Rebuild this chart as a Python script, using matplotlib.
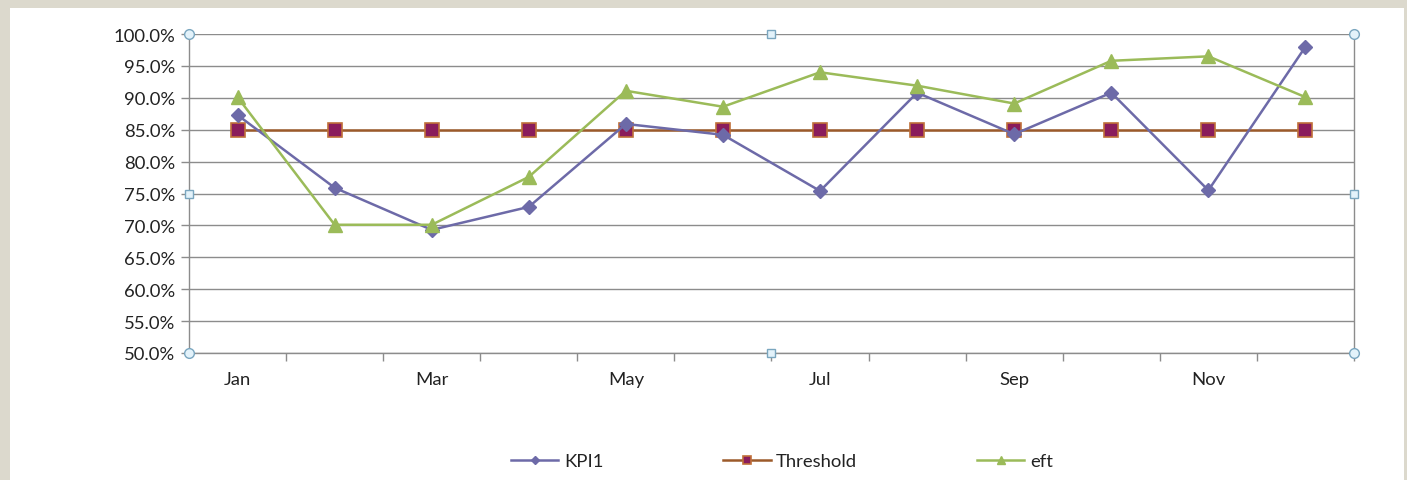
import matplotlib
matplotlib.use("Agg")
import matplotlib.pyplot as plt
from matplotlib.patches import Rectangle
from matplotlib.ticker import FuncFormatter, FixedLocator

# ── Data ──────────────────────────────────────────────────────────────────────
months = ["Jan", "Feb", "Mar", "Apr", "May", "Jun",
          "Jul", "Aug", "Sep", "Oct", "Nov", "Dec"]
kpi1 = [87.3, 75.9, 69.3, 72.9, 85.9, 84.2, 75.4, 90.8, 84.3, 90.8, 75.5, 98.0]
threshold = [85.0] * 12
eft = [90.1, 70.1, 70.1, 77.6, 91.1, 88.6, 94.0, 91.9, 89.1, 95.8, 96.5, 90.1]

W, H = 1407, 481
FS = 13.3
plt.rcParams["font.family"] = ["Lato", "DejaVu Sans"]

fig = plt.figure(figsize=(W / 100, H / 100), dpi=100)
fig.patch.set_facecolor("#dcd9cd")
fig.add_artist(Rectangle((10 / W, 0), (1404 - 10) / W, (H - 9) / H,
                         transform=fig.transFigure, facecolor="white",
                         edgecolor="none", zorder=0))

ax = fig.add_axes([189 / W, (H - 354) / H, (1354 - 189) / W, (354 - 35) / H])
ax.set_facecolor("none")

x = list(range(len(months)))
ax.plot(x, kpi1, color="#6d6aa8", lw=1.8, marker="D", ms=7.5,
        mfc="#6d6aa8", mec="#6d6aa8", label="KPI1", zorder=4)
ax.plot(x, threshold, color="#9c5a2a", lw=1.8, marker="s", ms=10,
        mfc="#8a1c5c", mec="#c0703a", mew=1.2, label="Threshold", zorder=3)
ax.plot(x, eft, color="#9bbb59", lw=1.8, marker="^", ms=10,
        mfc="#9bbb59", mec="#9bbb59", label="eft", zorder=5)

# ── Axes ──────────────────────────────────────────────────────────────────────
ax.set_xlim(-0.5, len(months) - 0.5)
ax.set_ylim(50, 100)
ax.set_yticks([50 + 5 * i for i in range(11)])
ax.yaxis.set_major_formatter(FuncFormatter(lambda v, _: f"{v:.1f}%"))
ax.grid(axis="y", color="#8c8c8c", lw=1.0)
ax.set_axisbelow(True)

ax.xaxis.set_major_locator(FixedLocator(x))
ax.set_xticklabels([m if i % 2 == 0 else "" for i, m in enumerate(months)])
ax.xaxis.set_minor_locator(FixedLocator([i + 0.5 for i in range(len(months))]))
ax.tick_params(axis="x", which="major", length=0, pad=13, labelsize=FS,
               colors="#222222")
ax.tick_params(axis="x", which="minor", length=6, color="#8c8c8c", width=1)
ax.tick_params(axis="y", length=6, color="#8c8c8c", width=1, pad=4,
               labelsize=FS, colors="#222222")

for side in ("left", "bottom", "right"):
    ax.spines[side].set_color("#8c8c8c")
    ax.spines[side].set_linewidth(1.0)
ax.spines["top"].set_visible(False)

# selection handles of the plot area
hx = [0, 1, 0, 1]
hy = [0, 0, 1, 1]
ax.plot(hx, hy, ls="none", marker="o", ms=7, mfc="#e3f2fa", mec="#7aa6bf",
        transform=ax.transAxes, clip_on=False, zorder=6)
ax.plot([0.5, 0.5, 0, 1], [0, 1, 0.5, 0.5], ls="none", marker="s", ms=6,
        mfc="#e3f2fa", mec="#7aa6bf", transform=ax.transAxes, clip_on=False,
        zorder=6)

# ── Legend ────────────────────────────────────────────────────────────────────
fig.legend(loc="center", bbox_to_anchor=(782 / W, (H - 462) / H), ncol=3,
           frameon=False, fontsize=FS, handlelength=2.55, handletextpad=0.3,
           columnspacing=6.5, markerscale=0.6, labelcolor="#222222")

fig.savefig("out.png", dpi=100, facecolor=fig.get_facecolor())
